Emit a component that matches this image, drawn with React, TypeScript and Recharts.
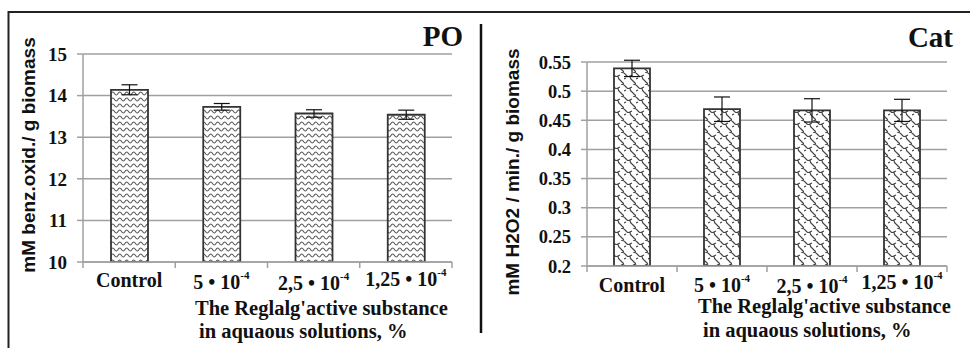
import { BarChart, Bar, XAxis, YAxis, CartesianGrid, ErrorBar } from "recharts";

// categories share the same labels in both panels; "^" marks the exponent
const categories = ["Control", "5 • 10^-4", "2,5 • 10^-4", "1,25 • 10^-4"];

// peroxidase (PO), mM benz.oxid. / g biomass
const poValues = [14.14, 13.73, 13.57, 13.54];
const poErrors = [0.12, 0.08, 0.09, 0.11];
const poTicks = [10, 11, 12, 13, 14, 15];

// catalase (Cat), mM H2O2 / min. / g biomass
const catValues = [0.539, 0.469, 0.467, 0.467];
const catErrors = [0.014, 0.021, 0.02, 0.019];
const catTicks = [0.2, 0.25, 0.3, 0.35, 0.4, 0.45, 0.5, 0.55];

const SERIF = "'Liberation Serif', 'Times New Roman', serif";
const SANS = "'Liberation Sans', Arial, sans-serif";
const GRID = "#a0a0a0";

const poData = categories.map((c, i) => ({ cat: c, v: poValues[i], err: poErrors[i] }));
const catData = categories.map((c, i) => ({ cat: c, v: catValues[i], err: catErrors[i] }));

// little vertical jitter of the category labels, as in the scanned figure
const LEFT_DY = [25, 27, 28, 24];
const RIGHT_DY = [26, 26, 27, 23];

function CatTick(props: any) {
  const { x, y, payload, index, band, dys } = props;
  const [base, exp] = String(payload.value).split("^");
  const last = index === categories.length - 1;
  return (
    <g>
      <line x1={x - band / 2} x2={x - band / 2} y1={y} y2={y + 6} stroke={GRID} strokeWidth={1.5} />
      {last && <line x1={x + band / 2} x2={x + band / 2} y1={y} y2={y + 6} stroke={GRID} strokeWidth={1.5} />}
      <text x={x} y={y + dys[index]} textAnchor="middle" fontFamily={SERIF} fontWeight="bold" fontSize={20} fill="#111">
        {base}
        {exp && <tspan fontSize={11} dy={-10}>{exp}</tspan>}
      </text>
    </g>
  );
}

function Patterns() {
  return (
    <defs>
      <pattern id="wave" width={7} height={6} patternUnits="userSpaceOnUse">
        <rect width={7} height={6} fill="#fff" />
        <path d="M-1 3.5 Q0.75 0.5 2.5 3.5 T6 3.5 T9.5 3.5" fill="none" stroke="#555" strokeWidth={1.1} />
      </pattern>
      <pattern id="weave" width={12} height={12} patternUnits="userSpaceOnUse">
        <rect width={12} height={12} fill="#fff" />
        <path d="M0 1 L3 4 Q4.5 5 6 4 L8 3 M6 4 Q6 7 8 8 L11 11 M0 7 L2 6 M11 11 Q12 12 12 13 M9 0 L12 1" fill="none" stroke="#444" strokeWidth={1.2} />
      </pattern>
    </defs>
  );
}

function Panel({ data, ticks, domain, fill, width, margin, barSize, dys, tickFont }: any) {
  const plotW = width - margin.left - 60 - margin.right;
  const band = plotW / categories.length;
  return (
    <BarChart width={width} height={348} data={data} margin={margin}>
      <Patterns />
      <CartesianGrid vertical={false} stroke={GRID} strokeWidth={1.5} />
      <XAxis
        dataKey="cat" height={30} stroke={GRID} strokeWidth={1.5}
        tickLine={false} tickSize={0} tickMargin={0} interval={0}
        tick={<CatTick band={band} dys={dys} />}
      />
      <YAxis
        width={60} domain={domain} ticks={ticks} allowDataOverflow
        stroke={GRID} strokeWidth={1.5} tickSize={6} tickMargin={10}
        tick={{ fontFamily: SERIF, fontWeight: "bold", fontSize: tickFont, fill: "#111" }}
      />
      <Bar dataKey="v" fill={fill} stroke="#333" strokeWidth={1.8} barSize={barSize} isAnimationActive={false}>
        <ErrorBar dataKey="err" direction="y" width={8} stroke="#111" strokeWidth={1.2} />
      </Bar>
    </BarChart>
  );
}

export default function App() {
  return (
    <div style={{ position: "absolute", left: 0, top: 0, width: 970, height: 348, background: "#fff", overflow: "hidden" }}>
      <div style={{ position: "absolute", left: 0, top: 0 }}>
        <Panel
          data={poData} ticks={poTicks} domain={[10, 15]} fill="url(#wave)" width={480}
          margin={{ top: 54, right: 28, bottom: 56, left: 23 }} barSize={37} dys={LEFT_DY} tickFont={19}
        />
      </div>
      <div style={{ position: "absolute", left: 480, top: 0 }}>
        <Panel
          data={catData} ticks={catTicks} domain={[0.2, 0.55]} fill="url(#weave)" width={490}
          margin={{ top: 62, right: 23, bottom: 52, left: 47 }} barSize={36} dys={RIGHT_DY} tickFont={18.5}
        />
      </div>
      <svg width={970} height={348} style={{ position: "absolute", left: 0, top: 0, pointerEvents: "none" }}>
        <line x1={8} x2={970} y1={12} y2={12} stroke="#222" strokeWidth={2} />
        <line x1={8.5} x2={8.5} y1={11} y2={348} stroke="#222" strokeWidth={2} />
        <line x1={481} x2={481} y1={24} y2={333} stroke="#111" strokeWidth={2.5} />

        <text x={463} y={46} textAnchor="end" fontFamily={SERIF} fontWeight="bold" fontSize={29} fill="#111">PO</text>
        <text x={953} y={47} textAnchor="end" fontFamily={SERIF} fontWeight="bold" fontSize={29} fill="#111">Cat</text>

        <text transform="translate(35,155) rotate(-90)" textAnchor="middle" fontFamily={SANS} fontWeight="bold" fontSize={19} fill="#111">
          mM benz.oxid./ g biomass
        </text>
        <text transform="translate(519,172) rotate(-90)" textAnchor="middle" fontFamily={SANS} fontWeight="bold" fontSize={19} fill="#111">
          mM H2O2 / min./ g biomass
        </text>

        <text x={195} y={315} fontFamily={SERIF} fontWeight="bold" fontSize={20.5} fill="#111">The Reglalg'active substance</text>
        <text x={199} y={338} fontFamily={SERIF} fontWeight="bold" fontSize={20.5} fill="#111">in aquaous solutions, %</text>
        <text x={698} y={313} fontFamily={SERIF} fontWeight="bold" fontSize={20.5} fill="#111">The Reglalg'active substance</text>
        <text x={703} y={337} fontFamily={SERIF} fontWeight="bold" fontSize={20.5} fill="#111">in aquaous solutions, %</text>
      </svg>
    </div>
  );
}
